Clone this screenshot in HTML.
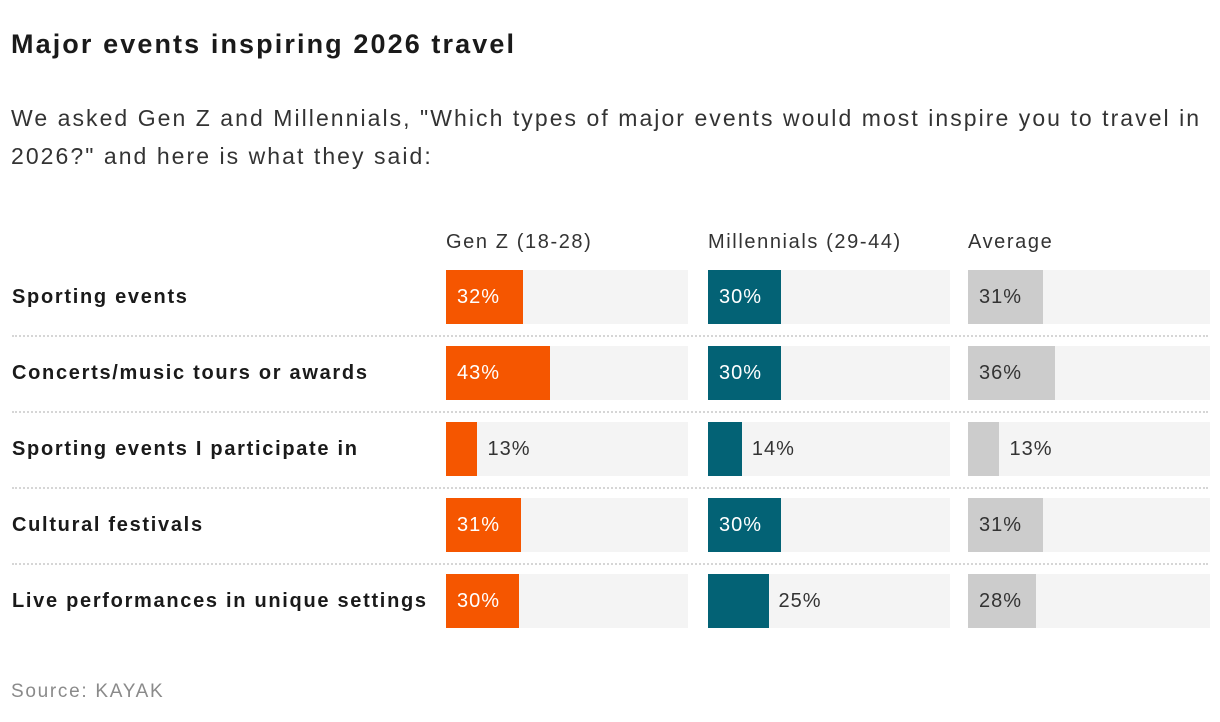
<!DOCTYPE html>
<html><head><meta charset="utf-8"><style>
body{margin:0;background:#fff;width:1220px;height:722px;overflow:hidden;font-family:"Liberation Sans",sans-serif;color:#1a1a1a;position:relative}
.abs{position:absolute;white-space:nowrap}
</style></head><body>
<div class="abs" style="left:11px;top:29px;font-size:27px;font-weight:bold;letter-spacing:2.1px">Major events inspiring 2026 travel</div>
<div class="abs" style="left:11px;top:99px;font-size:23px;line-height:38px;color:#333;white-space:normal;width:1205px;letter-spacing:2.05px">We asked Gen Z and Millennials, "Which types of major events would most inspire you to travel in 2026?" and here is what they said:</div>
<div id="chart"></div>
<div class="abs" style="left:11px;top:681px;font-size:19px;color:#8a8a8a;letter-spacing:1.7px">Source: KAYAK</div>
<script>
const categories=["Sporting events","Concerts/music tours or awards","Sporting events I participate in","Cultural festivals","Live performances in unique settings"];
const seriesNames=["Gen Z (18-28)","Millennials (29-44)","Average"];
const genZ=[32,43,13,31,30];
const millennials=[30,30,14,30,25];
const average=[31,36,13,31,28];
const series=[genZ,millennials,average];
const colors=["#f55600","#036275","#cccccc"];
const textIn=["#fff","#fff","#333"];
const colX=[446,708,968], colW=242, rowY0=270, pitch=76, barH=54;
const xs=v=>v/100*colW;
const root=document.getElementById('chart');
function mk(style,text){const d=document.createElement('div');d.className='abs';d.style.cssText=style;if(text!=null)d.textContent=text;root.appendChild(d);return d;}
seriesNames.forEach((n,j)=>{
  const h=mk(`left:${colX[j]}px;top:231px;font-size:20px;color:#333;letter-spacing:1.6px`,n);
  
  
});
categories.forEach((c,i)=>{
  const y=rowY0+i*pitch;
  const l=mk(`left:12px;top:${y+14}px;font-size:20px;font-weight:bold;line-height:26px;letter-spacing:1.7px`,c);
  
  
  if(i<categories.length-1){
    const s=mk(`left:12px;top:${y+barH+11}px;width:1196px;height:0;border-top:2px dotted #d6d6d6`);
    
    
  }
  series.forEach((arr,j)=>{
    const v=arr[i];
    const bg=mk(`left:${colX[j]}px;top:${y}px;width:${colW}px;height:${barH}px;background:#f4f4f4`);
    
    
    const w=xs(v);
    const b=mk(`left:${colX[j]}px;top:${y}px;width:${w}px;height:${barH}px;background:${colors[j]}`);
    
    
    const inside=v>=28;
    const t=mk(`left:${inside?colX[j]+11:colX[j]+w+10}px;top:${y+15}px;font-size:20px;line-height:24px;letter-spacing:1px;color:${inside?textIn[j]:'#333'}`,v+'%');
    
    
  });
});
</script>
</body></html>
